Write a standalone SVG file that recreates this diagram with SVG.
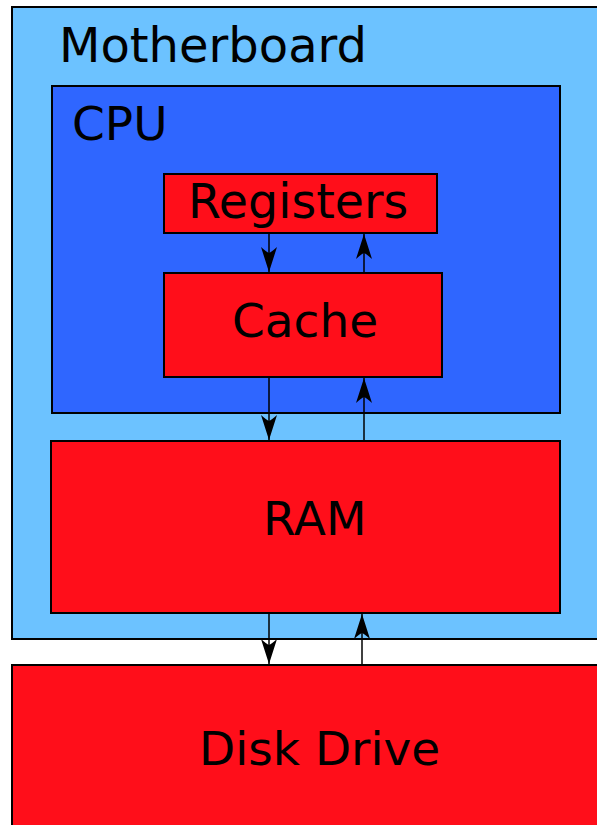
<svg xmlns="http://www.w3.org/2000/svg" width="597" height="825" viewBox="0 0 597 825">
  <style>
    .box { stroke: #000; stroke-width: 2; }
    .board { fill: #6cc2ff; }
    .cpu { fill: #2f66ff; }
    .part { fill: #ff0e1a; }
    .lbl { font-family: "DejaVu Sans", "Liberation Sans", sans-serif; font-size: 47px; fill: #000; }
    .flow { stroke: #000; stroke-width: 1.5; fill: none; marker-end: url(#head); }
  </style>
  <defs>
    <marker id="head" viewBox="0 -9 26 18" refX="25" refY="0" markerWidth="26" markerHeight="18" markerUnits="userSpaceOnUse" orient="auto">
      <path d="M25,0 L0,-8 Q5,-2.5 6,0 Q5,2.5 0,8 Z" fill="#000"/>
    </marker>
  </defs>
  <rect width="597" height="825" fill="#fff"/>

  <g id="motherboard">
    <rect class="box board" x="12" y="7" width="600" height="632"/>
    <text class="lbl" x="59" y="62" style="font-size:48px">Motherboard</text>
  </g>

  <g id="cpu">
    <rect class="box cpu" x="52" y="86" width="508" height="327"/>
    <text class="lbl" x="72" y="140">CPU</text>
  </g>

  <g id="registers">
    <rect class="box part" x="164" y="174" width="273" height="59"/>
    <text class="lbl" x="188" y="218" style="font-size:47.5px">Registers</text>
  </g>

  <g id="cache">
    <rect class="box part" x="164" y="273" width="278" height="104"/>
    <text class="lbl" x="232" y="337">Cache</text>
  </g>

  <g id="ram">
    <rect class="box part" x="51" y="441" width="509" height="172"/>
    <text class="lbl" x="263" y="535">RAM</text>
  </g>

  <g id="disk-drive">
    <rect class="box part" x="12" y="665" width="600" height="180"/>
    <text class="lbl" x="199" y="765">Disk Drive</text>
  </g>

  <g id="connectors">
    <line class="flow" x1="269" y1="233" x2="269" y2="272"/>
    <line class="flow" x1="364" y1="273" x2="364" y2="234"/>
    <line class="flow" x1="269" y1="377" x2="269" y2="440"/>
    <line class="flow" x1="364" y1="441" x2="364" y2="378"/>
    <line class="flow" x1="269" y1="613" x2="269" y2="664"/>
    <line class="flow" x1="362" y1="665" x2="362" y2="614"/>
  </g>
</svg>
